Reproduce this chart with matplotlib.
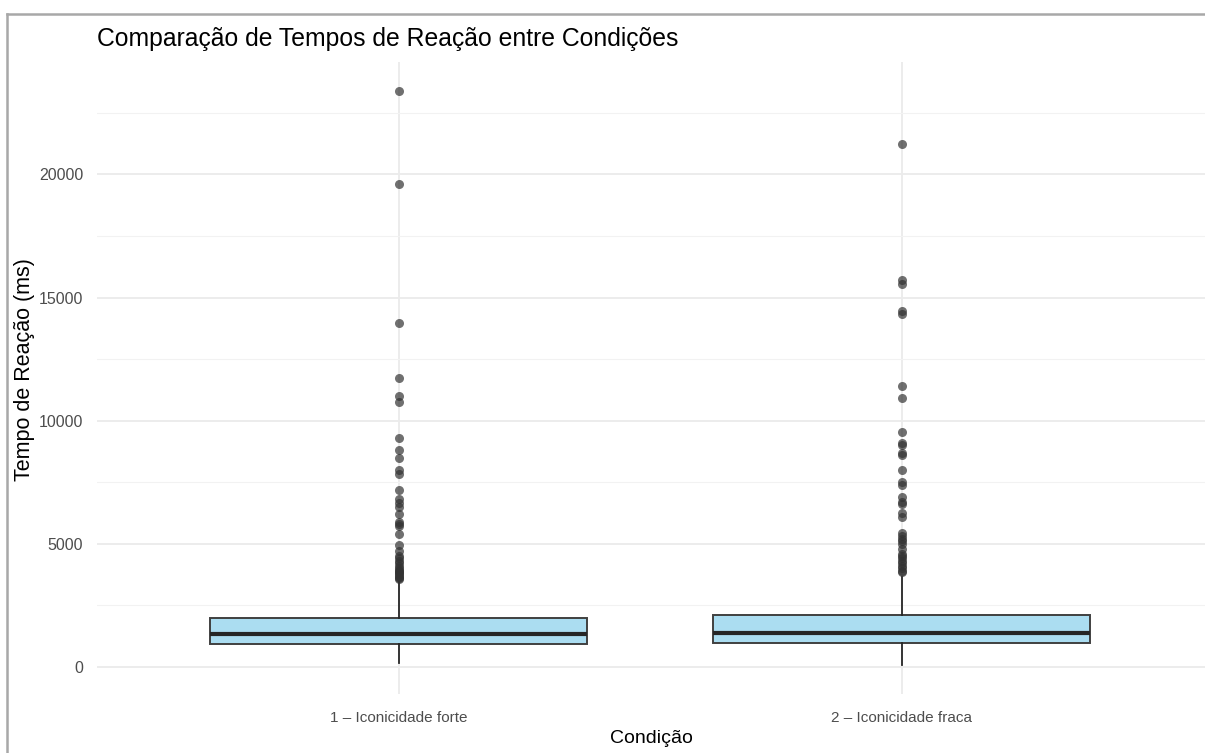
import matplotlib
matplotlib.use("Agg")
import matplotlib.pyplot as plt
from matplotlib.lines import Line2D
from matplotlib.ticker import MultipleLocator

plt.rcParams["font.family"] = ["Liberation Sans", "DejaVu Sans"]

# boxplot summaries per condition (ms)
condicoes = ["1 – Iconicidade forte", "2 – Iconicidade fraca"]
whis_lo = [150, 60]
q1 = [940, 950]
mediana = [1320, 1360]
q3 = [1980, 2100]
whis_hi = [3450, 3650]

outliers_forte = [23400, 19600, 13950, 11750, 11000, 10750, 9300, 8800, 8500,
                  8000, 7850, 7200, 6800, 6650, 6500, 6200, 5900, 5800, 5700,
                  5400, 4950, 4700, 4500, 4400, 4300, 4200, 4100, 4000, 3950,
                  3900, 3850, 3800, 3750, 3700, 3650, 3600, 3560]
outliers_fraca = [21250, 15700, 15530, 14470, 14340, 11400, 10900, 9550, 9100,
                  9000, 8700, 8600, 8000, 7500, 7400, 6900, 6700, 6600, 6250,
                  6100, 5450, 5300, 5200, 5100, 5000, 4800, 4600, 4500, 4400,
                  4300, 4200, 4100, 4000, 3900, 3850]
outliers = [outliers_forte, outliers_fraca]

fig = plt.figure(figsize=(12.05, 7.53), dpi=100)
ax = fig.add_axes([97 / 1205, (753 - 694) / 753, 1 - 97 / 1205, (694 - 62) / 753])

stats = []
for i, nome in enumerate(condicoes):
    stats.append(dict(label=nome, whislo=whis_lo[i], q1=q1[i], med=mediana[i],
                      q3=q3[i], whishi=whis_hi[i], fliers=outliers[i]))

pos = list(range(1, len(condicoes) + 1))
ax.bxp(stats, positions=pos, widths=0.75, patch_artist=True, showcaps=False,
       boxprops=dict(facecolor="#ABDDF1", edgecolor="#404040", linewidth=1.4),
       medianprops=dict(color="#262626", linewidth=3),
       whiskerprops=dict(color="#262626", linewidth=1.3),
       flierprops=dict(marker="o", markerfacecolor="#333333", markeredgecolor="none",
                       markersize=6.5, alpha=0.7),
       zorder=3)

# ggplot-like 5% expansion on y, 0.6 on discrete x
todos = [v for o in outliers for v in o] + whis_lo
lo, hi = min(todos), max(todos)
pad = (hi - lo) * 0.05
ax.set_ylim(lo - pad, hi + pad)
ax.set_xlim(0.4, 0.4 + (1205 - 97) / 503)

ax.yaxis.set_major_locator(MultipleLocator(5000))
ax.yaxis.set_minor_locator(MultipleLocator(2500))
ax.set_xticks(pos)
ax.set_xticklabels(condicoes)
ax.grid(True, which="major", color="#EBEBEB", linewidth=1.3, zorder=0)
ax.grid(True, which="minor", axis="y", color="#F2F2F2", linewidth=0.8, zorder=0)
ax.set_axisbelow(True)
for s in ax.spines.values():
    s.set_visible(False)
ax.tick_params(which="both", length=0)
ax.tick_params(axis="y", labelsize=11.5, labelcolor="#4D4D4D", pad=10)
ax.tick_params(axis="x", labelsize=11, labelcolor="#4D4D4D", pad=12)

ax.set_xlabel("Condição", fontsize=14, labelpad=4)
fig.text(25 / 1205, 1 - 370 / 753, "Tempo de Reação (ms)", fontsize=15.5,
         rotation=90, ha="center", va="center")
fig.text(97 / 1205, 1 - 39 / 753, "Comparação de Tempos de Reação entre Condições",
         fontsize=17.8, ha="left", va="center")

# window frame on top and left
fig.add_artist(Line2D([7 / 1205, 1], [1 - 14 / 753, 1 - 14 / 753],
                      color="#A8A8A8", linewidth=1.8))
fig.add_artist(Line2D([7 / 1205, 7 / 1205], [0, 1 - 14 / 753],
                      color="#A8A8A8", linewidth=1.8))

fig.savefig("out.png", dpi=100)
